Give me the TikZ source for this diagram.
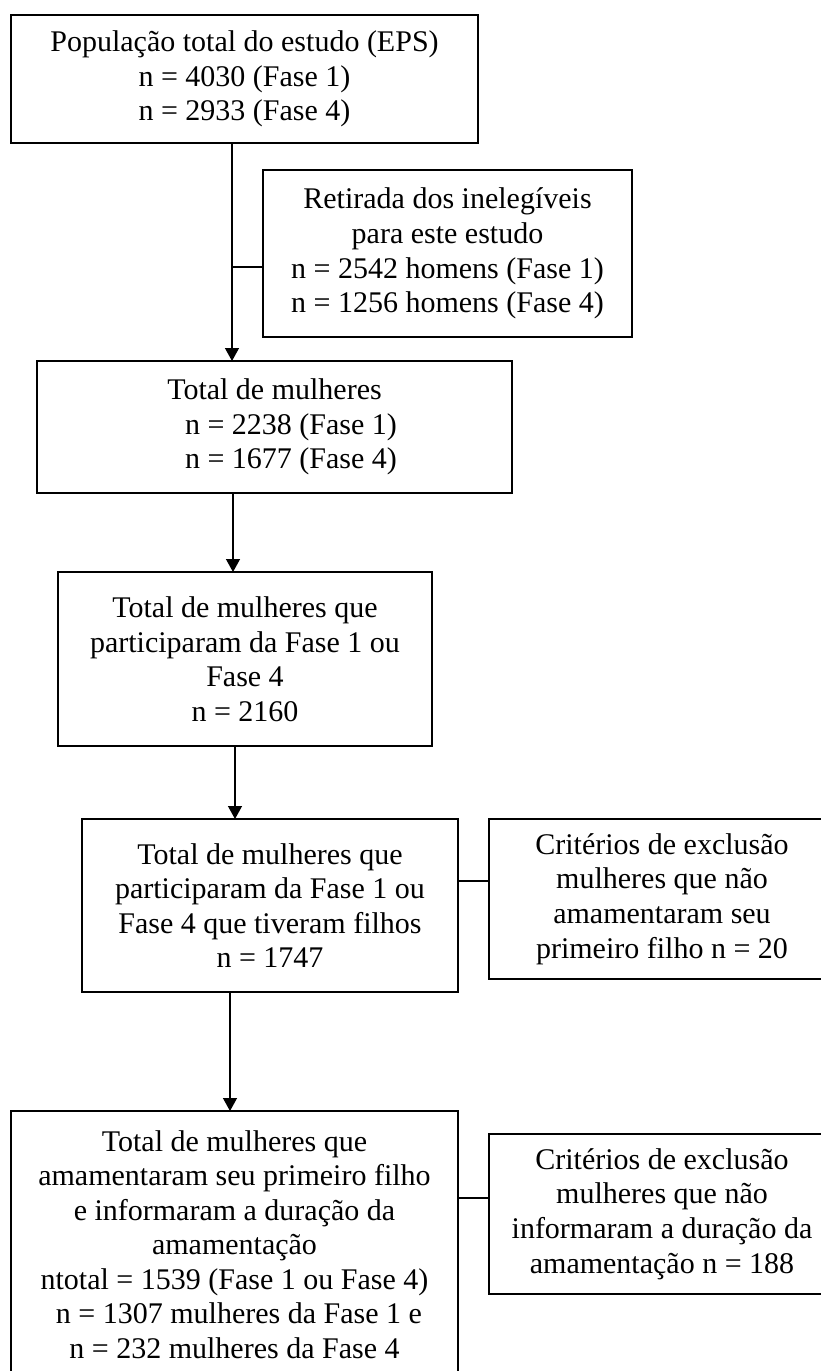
\documentclass[tikz,border=0pt]{standalone}
\usepackage{fontspec}
\setmainfont{Liberation Serif}
\usetikzlibrary{arrows.meta}
\begin{document}
\begin{tikzpicture}[x=0.75pt,y=-0.75pt,
  box/.style={draw, line width=1.1pt, inner sep=0pt, outer sep=0pt, align=center,
    font=\fontsize{22.5}{25.9}\selectfont},
  conn/.style={line width=1pt},
  arr/.style={conn, -{Triangle[length=9.75pt,width=10.5pt]}}]
\useasboundingbox (0,0) rectangle (821,1371);
\clip (0,0) rectangle (821,1371);
% boxes
\node[box, minimum width=350.25pt, minimum height=96pt] (b1) at (244.5,79)
  {População total do estudo (EPS)\\n = 4030 (Fase 1)\\n = 2933 (Fase 4)};
\node[box, minimum width=276.75pt, minimum height=125.25pt] (b2) at (447.5,253.5)
  {Retirada dos inelegíveis\\para este estudo\\n = 2542 homens (Fase 1)\\n = 1256 homens (Fase 4)};
\node[box, minimum width=356.25pt, minimum height=99pt] (b3) at (274.5,427)
  {Total de mulheres\\\hspace*{1.1em}n = 2238 (Fase 1)\\\hspace*{1.1em}n = 1677 (Fase 4)};
\node[box, minimum width=280.5pt, minimum height=130.5pt] (b4) at (245,659)
  {Total de mulheres que\\participaram da Fase 1 ou\\Fase 4\\n = 2160};
\node[box, minimum width=282pt, minimum height=129.75pt] (b5) at (270,905.5)
  {Total de mulheres que\\participaram da Fase 1 ou\\Fase 4 que tiveram filhos\\n = 1747};
\node[box, minimum width=259.5pt, minimum height=120pt] (b6) at (662,899)
  {Critérios de exclusão\\mulheres que não\\amamentaram seu\\primeiro filho n = 20};
\node[box, minimum width=335.25pt, minimum height=200.25pt] (b7) at (234.5,1244.5)
  {Total de mulheres que\\amamentaram seu primeiro filho\\e informaram a duração da\\amamentação\\ntotal = 1539 (Fase 1 ou Fase 4)\\\hspace*{0.3em}n = 1307 mulheres da Fase 1 e\\n = 232 mulheres da Fase 4};
\node[box, minimum width=259.5pt, minimum height=120pt] (b8) at (662,1214)
  {Critérios de exclusão\\mulheres que não\\informaram a duração da\\amamentação n = 188};
% connector positions
\coordinate (xa) at (232,0);
\coordinate (xb) at (233,0);
\coordinate (xc) at (235,0);
\coordinate (xd) at (230,0);
\coordinate (ya) at (0,267);
\coordinate (yb) at (0,881);
\coordinate (yc) at (0,1198);
% connectors
\draw[arr] (b1.south -| xa) -- (b3.north -| xa);
\draw[conn] (b2.west |- ya) -- (xa |- ya);
\draw[arr] (b3.south -| xb) -- (b4.north -| xb);
\draw[arr] (b4.south -| xc) -- (b5.north -| xc);
\draw[conn] (b5.east |- yb) -- (b6.west |- yb);
\draw[arr] (b5.south -| xd) -- (b7.north -| xd);
\draw[conn] (b7.east |- yc) -- (b8.west |- yc);
\end{tikzpicture}
\end{document}
